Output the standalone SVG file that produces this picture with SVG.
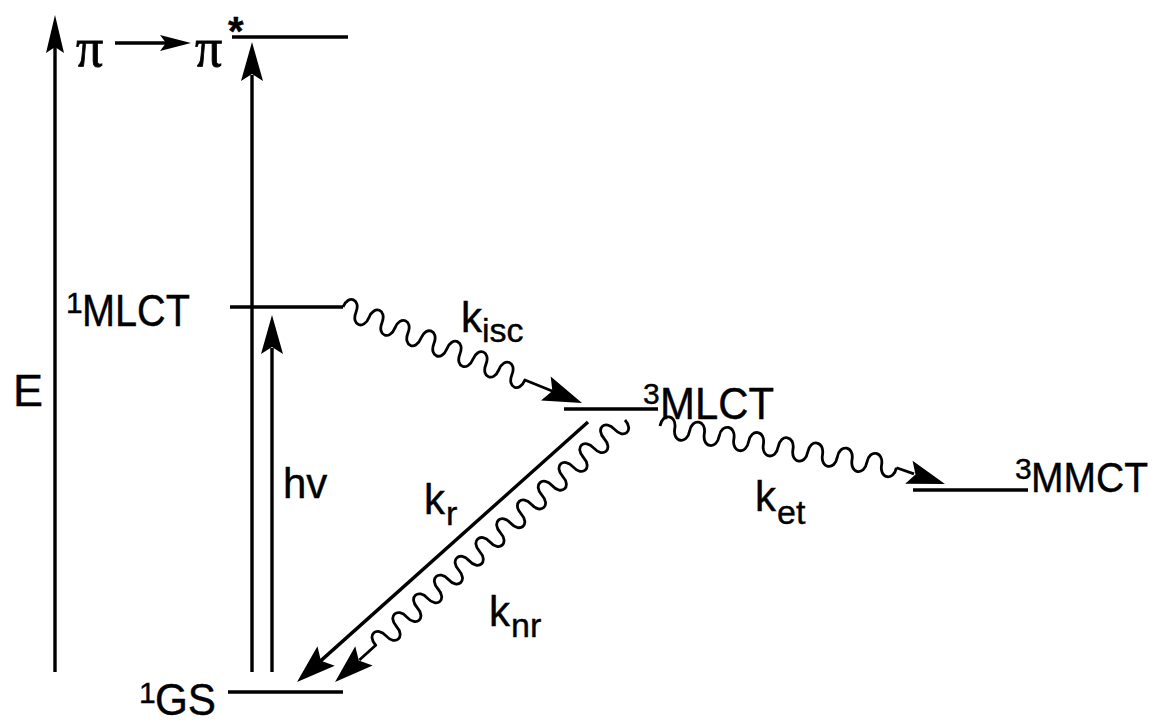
<svg xmlns="http://www.w3.org/2000/svg" width="1162" height="723" viewBox="0 0 1162 723">
<style>
.ln{stroke:#000;stroke-width:3.4;fill:none}
.wv{stroke:#000;stroke-width:2.8;fill:none;stroke-linejoin:round}
.ah{fill:#000;stroke:none}
.t,.k,.sup,.sub{font-family:"Liberation Sans",Arial,Helvetica,sans-serif;fill:#000;stroke:#000;stroke-width:0.4}
.t{font-size:45px}
.k{font-size:42px}
.sup{font-size:30px}
.sub{font-size:34px}
.gr{font-family:"Liberation Serif","Times New Roman",serif;font-size:54px;fill:#000;stroke:#000;stroke-width:0.8}
</style>
<rect width="1162" height="723" fill="#fff"/>
<g id="axis">
<line class="ln" x1="55" y1="672" x2="55" y2="45"/>
<polygon class="ah" points="55,15 46,53 55,47 64,53"/>
<text class="t" x="13" y="406">E</text>
</g>
<g id="pi-transition">
<text class="gr" x="76" y="66">π</text>
<line class="ln" x1="115" y1="43" x2="166" y2="43"/>
<polygon class="ah" points="191,43 160,35 166,43 160,51"/>
<text class="gr" x="195" y="66">π</text>
<text class="t" x="228" y="45" style="font-weight:bold;font-size:40px">*</text>
</g>
<g id="level-pistar"><line class="ln" x1="232" y1="37" x2="348" y2="37"/></g>
<g id="level-1MLCT">
<line class="ln" x1="230" y1="307" x2="343" y2="307"/>
<text class="sup" x="66" y="313">1</text>
<text class="t" x="82" y="326" textLength="108" lengthAdjust="spacingAndGlyphs">MLCT</text>
</g>
<g id="level-3MLCT">
<line class="ln" x1="564" y1="409" x2="658" y2="409"/>
<text class="sup" x="643" y="404">3</text>
<text class="t" x="660" y="419" textLength="114" lengthAdjust="spacingAndGlyphs">MLCT</text>
</g>
<g id="level-3MMCT">
<line class="ln" x1="913" y1="490" x2="1028" y2="490"/>
<text class="sup" x="1015" y="479">3</text>
<text class="t" x="1031" y="492" style="font-size:43px" textLength="117" lengthAdjust="spacingAndGlyphs">MMCT</text>
</g>
<g id="level-1GS">
<line class="ln" x1="228" y1="692" x2="343" y2="692"/>
<text class="sup" x="139" y="703">1</text>
<text class="t" x="155" y="715" textLength="61" lengthAdjust="spacingAndGlyphs">GS</text>
</g>
<g id="connectors">
<g id="excitation">
<line class="ln" x1="252" y1="672" x2="252" y2="75"/>
<polygon class="ah" points="252,42 241,81 252,74 263,81"/>
</g>
<g id="hv">
<line class="ln" x1="272" y1="672" x2="272" y2="348"/>
<polygon class="ah" points="272,315 261,354 272,347 283,354"/>
<text class="k" x="283" y="498">hv</text>
</g>
<g id="kisc">
<g transform="translate(343,307) rotate(21.88)">
<path class="wv" d="M0,0 c0,-14 14,-14 14,0 c0,14 14,14 14,0 c0,-14 14,-14 14,0 c0,14 14,14 14,0 c0,-14 14,-14 14,0 c0,14 14,14 14,0 c0,-14 14,-14 14,0 c0,14 14,14 14,0 c0,-14 14,-14 14,0 c0,14 14,14 14,0 c0,-14 14,-14 14,0 c0,14 14,14 14,0 c0,-14 14,-14 14,0 c0,14 14,14 14,0 L226,0"/>
<polygon class="ah" points="257.6,0 218.6,-13 225.6,0 218.6,13"/>
</g>
<text class="k" x="461" y="332">k</text><text class="sub" x="482" y="342">isc</text>
</g>
<g id="kr">
<g transform="translate(588,422) rotate(138.22)">
<line class="ln" x1="0" y1="0" x2="360" y2="0"/>
<polygon class="ah" points="390.2,0 351.2,-13 358.2,0 351.2,13"/>
</g>
<text class="k" x="424" y="514">k</text><text class="sub" x="446" y="525">r</text>
</g>
<g id="knr">
<g transform="translate(625,420) rotate(137.9)">
<path class="wv" d="M0,0 c0,-14 14,-14 14,0 c0,14 14,14 14,0 c0,-14 14,-14 14,0 c0,14 14,14 14,0 c0,-14 14,-14 14,0 c0,14 14,14 14,0 c0,-14 14,-14 14,0 c0,14 14,14 14,0 c0,-14 14,-14 14,0 c0,14 14,14 14,0 c0,-14 14,-14 14,0 c0,14 14,14 14,0 c0,-14 14,-14 14,0 c0,14 14,14 14,0 c0,-14 14,-14 14,0 c0,14 14,14 14,0 c0,-14 14,-14 14,0 c0,14 14,14 14,0 c0,-14 14,-14 14,0 c0,14 14,14 14,0 c0,-14 14,-14 14,0 c0,14 14,14 14,0 c0,-14 14,-14 14,0 c0,14 14,14 14,0 L358,0"/>
<polygon class="ah" points="390.8,0 351.8,-13 358.8,0 351.8,13"/>
</g>
<text class="k" x="489" y="626">k</text><text class="sub" x="511" y="637">nr</text>
</g>
<g id="ket">
<g transform="translate(660,426) rotate(10)">
<path class="wv" d="M0,0 c0,-14 15,-14 15,0 c0,14 15,14 15,0 c0,-14 15,-14 15,0 c0,14 15,14 15,0 c0,-14 15,-14 15,0 c0,14 15,14 15,0 c0,-14 15,-14 15,0 c0,14 15,14 15,0 c0,-14 15,-14 15,0 c0,14 15,14 15,0 c0,-14 15,-14 15,0 c0,14 15,14 15,0 c0,-14 15,-14 15,0 c0,14 15,14 15,0 c0,-14 15,-14 15,0 c0,14 15,14 15,0"/>
</g>
<line class="wv" x1="896.4" y1="467.7" x2="914" y2="473.9"/>
<g transform="translate(945,484) rotate(18)">
<polygon class="ah" points="0,0 -38,-12 -31,0 -38,12"/>
</g>
<text class="k" x="755" y="511">k</text><text class="sub" x="777" y="524">et</text>
</g>
</g>
</svg>
